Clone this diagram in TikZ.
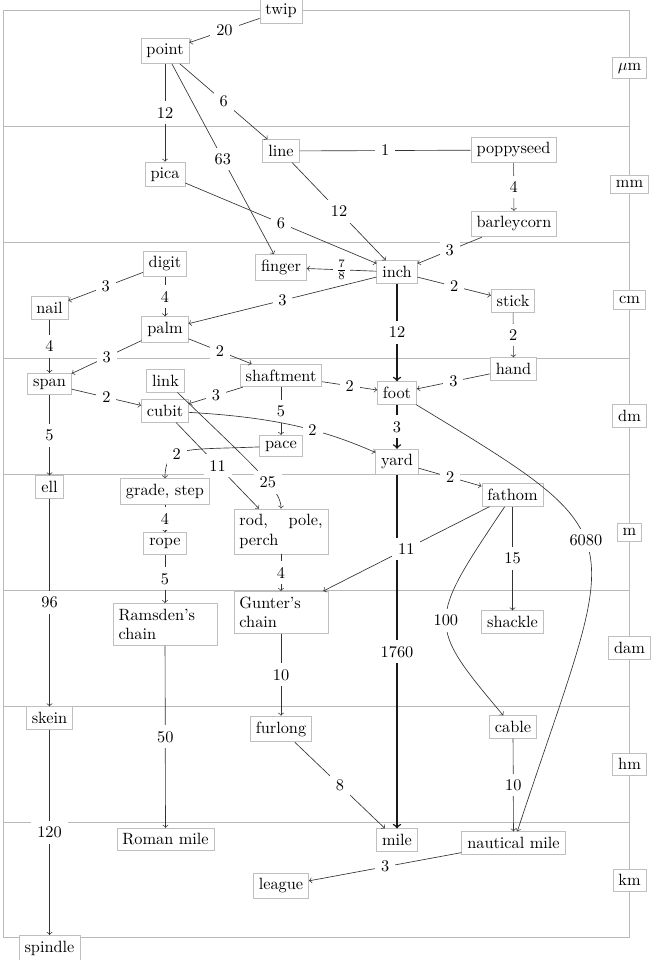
\documentclass[tikz,border=0pt]{standalone}
\begin{document}
\begin{tikzpicture}[x=0.0215517cm, y=-0.0215517cm,
  box/.style={draw=gray!50, fill=white, line width=0.5pt},
  wbox/.style={box, text width=#1},
  unitbox/.style={draw=gray!50, fill=white, line width=0.5pt},
  band/.style={draw=gray!55, line width=0.6pt},
  lab/.style={fill=white, inner sep=3.6pt},
  conn/.style={->, draw=black!80, line width=0.4pt},
  mainconn/.style={->, draw=black!90, line width=0.9pt},
]
\useasboundingbox (0,0) rectangle (652,960);
% frame and bands
\draw[band] (3,10) rectangle (629.5,937);
\foreach \yy in {126,242,358,474,590,706,822} {\draw[band] (3,\yy) -- (629.5,\yy);}
% unit labels
\node[unitbox] (um)  at (629.5,68)  {$\mu$m};
\node[unitbox] (mm)  at (629.5,184) {mm};
\node[unitbox] (cm)  at (629.5,300) {cm};
\node[unitbox] (dm)  at (629.5,416) {dm};
\node[unitbox] (m)   at (629.5,532) {m};
\node[unitbox] (dam) at (629.5,648) {dam};
\node[unitbox] (hm)  at (629.5,764) {hm};
\node[unitbox] (km)  at (629.5,880) {km};
% nodes
\node[box] (twip) at (281,11) {twip};
\node[box] (point) at (165,51) {point};
\node[box] (pica) at (165,174.5) {pica};
\node[box] (line) at (281,151) {line};
\node[box] (poppyseed) at (513.5,150) {poppyseed};
\node[box] (barleycorn) at (514,224) {barleycorn};
\node[box] (digit) at (165,264) {digit};
\node[box] (finger) at (281,267.5) {finger};
\node[box] (inch) at (397,272) {inch};
\node[box] (stick) at (513,301) {stick};
\node[box] (nail) at (49.5,308) {nail};
\node[box] (palm) at (165,329.5) {palm};
\node[box] (hand) at (513.5,369) {hand};
\node[box] (span) at (49.5,384) {span};
\node[box] (link) at (165.5,381) {link};
\node[box] (shaftment) at (281,375.5) {shaftment};
\node[box] (cubit) at (165,411) {cubit};
\node[box] (foot) at (397,393) {foot};
\node[box] (pace) at (281,446) {pace};
\node[box] (yard) at (397,462) {yard};
\node[box] (ell) at (49.5,487) {ell};
\node[box] (grade) at (165,491.5) {grade, step};
\node[box] (rope) at (165,543.5) {rope};
\node[wbox=51pt, align=justify] (rod) at (281,531.5) {rod, pole, perch};
\node[box] (fathom) at (512.5,495) {fathom};
\node[wbox=57pt] (ramsden) at (165,624.5) {Ramsden's chain};
\node[wbox=51pt] (gunter) at (281,612.5) {Gunter's chain};
\node[box] (shackle) at (512.5,622) {shackle};
\node[box] (skein) at (49.5,718) {skein};
\node[box] (furlong) at (281,729) {furlong};
\node[box] (cable) at (513,727) {cable};
\node[box] (roman) at (165.5,839.5) {Roman mile};
\node[box] (mile) at (397,840) {mile};
\node[box] (nautical) at (513.5,843) {nautical mile};
\node[box] (league) at (281,886) {league};
\node[box] (spindle) at (49.5,948) {spindle};
% connectors
\draw[conn] (twip) -- (point) node[lab,midway] {20};
\draw[conn] (point) -- (pica) node[lab,midway] {12};
\draw[conn] (point) -- (line) node[lab,midway] {6};
\draw[conn] (point) -- (finger) node[lab,midway] {63};
\draw[draw=black!80, line width=0.4pt] (line) -- (poppyseed) node[lab,midway] {1};
\draw[conn] (poppyseed) -- (barleycorn) node[lab,midway] {4};
\draw[conn] (line) -- (inch) node[lab,midway] {12};
\draw[conn] (pica) -- (inch) node[lab,midway] {6};
\draw[conn] (barleycorn) -- (inch) node[lab,midway] {3};
\draw[conn] (inch) -- (finger) node[lab,midway,inner sep=2pt] {$\frac{7}{8}$};
\draw[conn] (inch) -- (palm) node[lab,midway] {3};
\draw[conn] (inch) -- (stick) node[lab,midway] {2};
\draw[mainconn] (inch) -- (foot) node[lab,midway] {12};
\draw[conn] (stick) -- (hand) node[lab,midway] {2};
\draw[conn] (digit) -- (nail) node[lab,midway] {3};
\draw[conn] (digit) -- (palm) node[lab,midway] {4};
\draw[conn] (nail) -- (span) node[lab,midway] {4};
\draw[conn] (palm) -- (span) node[lab,midway] {3};
\draw[conn] (palm) -- (shaftment) node[lab,midway] {2};
\draw[conn] (hand) -- (foot) node[lab,midway] {3};
\draw[conn] (shaftment) -- (foot) node[lab,midway] {2};
\draw[conn] (shaftment) -- (cubit) node[lab,midway] {3};
\draw[conn] (shaftment) -- (pace) node[lab,midway] {5};
\draw[conn] (span) -- (cubit) node[lab,midway] {2};
\draw[conn] (span) -- (ell) node[lab,midway] {5};
\draw[conn] (cubit) .. controls (270,417) and (320,428) .. (yard) node[lab,pos=0.62] {2};
\draw[conn] (cubit) -- (rod) node[lab,midway] {11};
\draw[conn] (link) .. controls (258,470) and (281,490) .. (rod) node[lab,pos=0.6] {25};
\draw[conn] (pace) .. controls (185,450) and (165,445) .. (grade) node[lab,pos=0.6] {2};
\draw[mainconn] (foot) -- (yard) node[lab,midway] {3};
\draw[conn] (foot) .. controls (644,543) and (618,525) .. (nautical) node[lab,pos=0.45] {6080};
\draw[conn] (yard) -- (fathom) node[lab,midway] {2};
\draw[mainconn] (yard) -- (mile) node[lab,midway] {1760};
\draw[conn] (fathom) -- (gunter) node[lab,midway] {11};
\draw[conn] (fathom) -- (shackle) node[lab,midway] {15};
\draw[conn] (fathom) .. controls (427,622.6) and (426,623.5) .. (cable) node[lab,pos=0.5] {100};
\draw[conn] (ell) -- (skein) node[lab,midway] {96};
\draw[conn] (grade) -- (rope) node[lab,midway] {4};
\draw[conn] (rope) -- (ramsden) node[lab,midway] {5};
\draw[conn] (rod) -- (gunter) node[lab,midway] {4};
\draw[conn] (ramsden) -- (roman) node[lab,midway] {50};
\draw[conn] (gunter) -- (furlong) node[lab,midway] {10};
\draw[conn] (furlong) -- (mile) node[lab,midway] {8};
\draw[conn] (cable) -- (nautical) node[lab,midway] {10};
\draw[conn] (skein) -- (spindle) node[lab,midway] {120};
\draw[conn] (nautical) -- (league) node[lab,midway] {3};
\end{tikzpicture}
\end{document}
